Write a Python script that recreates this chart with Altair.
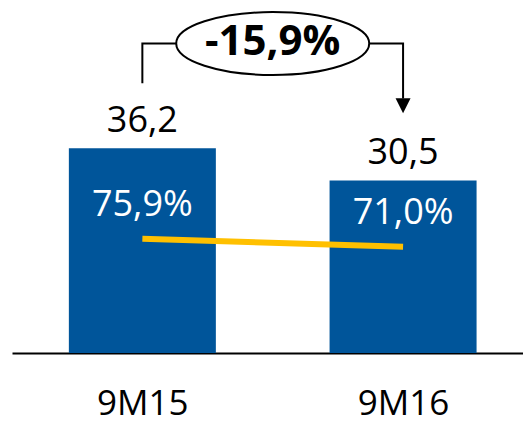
import altair as alt
import pandas as pd

# ---- data ----
categories = ["9M15", "9M16"]
values = [36.2, 30.5]
value_labels = ["36,2", "30,5"]
pcts = [75.9, 71.0]
pct_labels = ["75,9%", "71,0%"]
change_label = "-15,9%"

# ---- annotation anchors (in data units of the bar scale) ----
BRACKET_Y = 54.7
LEFT_DROP = 47.7
RIGHT_DROP = 45.0
ARROW_Y = 43.7
MID_X = 0.5

BLUE = "#00559A"
YELLOW = "#FFC000"
FONT = "Open Sans"

df = pd.DataFrame({
    "pos": list(range(len(categories))),
    "cat": categories,
    "value": values,
    "vlabel": value_labels,
    "pct": pcts,
    "plabel": pct_labels,
})

bracket = pd.DataFrame({
    "pos": [0, 0, 1, 1],
    "y": [LEFT_DROP, BRACKET_Y, BRACKET_Y, RIGHT_DROP],
    "o": [0, 1, 2, 3],
})
arrow = pd.DataFrame({"pos": [1], "y": [ARROW_Y]})
ell = pd.DataFrame({"pos": [MID_X], "y": [BRACKET_Y], "t": [change_label]})

label_expr = "datum.value == 0 ? '%s' : '%s'" % (categories[0], categories[1])

xs = alt.Scale(domain=[-0.5, 1.46], nice=False, zero=False, padding=0)
X_AXIS = alt.Axis(values=[0, 1], labelExpr=label_expr, ticks=False, tickSize=0,
                  grid=False, title=None, domainColor="black", domainWidth=2,
                  labelFont=FONT, labelFontSize=35, labelColor="black",
                  labelBaseline="alphabetic", labelPadding=61)


def xenc():
    return alt.X("pos:Q", scale=xs, axis=X_AXIS)


y1 = alt.Scale(domain=[0, 62.4], nice=False, zero=False, padding=0)
y2 = alt.Scale(domain=[6, 222], nice=False, zero=False, padding=0)

base = alt.Chart(df)

bars = base.mark_bar(color=BLUE, size=147).encode(
    x=xenc(), y=alt.Y("value:Q", scale=y1, axis=None)
)
vlabels = base.mark_text(font=FONT, fontSize=36, color="black", baseline="alphabetic", dy=-16).encode(
    x=xenc(), y=alt.Y("value:Q", scale=y1, axis=None), text="vlabel:N"
)
line = base.mark_line(color=YELLOW, strokeWidth=6, strokeCap="butt").encode(
    x=xenc(), y=alt.Y("pct:Q", scale=y2, axis=None)
)
plabels = base.mark_text(font=FONT, fontSize=36, color="white", baseline="alphabetic", dy=-23).encode(
    x=xenc(), y=alt.Y("pct:Q", scale=y2, axis=None), text="plabel:N"
)

br = alt.Chart(bracket).mark_line(color="black", strokeWidth=2, strokeCap="butt", strokeJoin="miter").encode(
    x=xenc(), y=alt.Y("y:Q", scale=y1, axis=None), order="o:Q"
)
arr = alt.Chart(arrow).mark_point(shape="M-1,-1L1,-1L0,1Z", size=225, filled=True,
                                  color="black", opacity=1).encode(
    x=xenc(), y=alt.Y("y:Q", scale=y1, axis=None)
)
ellipse = alt.Chart(ell).mark_point(
    shape="M-1,0A1,0.326,0,1,1,1,0A1,0.326,0,1,1,-1,0Z", size=193 * 193,
    filled=True, fill="white", stroke="black", strokeWidth=2, opacity=1
).encode(x=xenc(), y=alt.Y("y:Q", scale=y1, axis=None))
etext = alt.Chart(ell).mark_text(font=FONT, fontSize=42, fontWeight="bold", color="black",
                                 baseline="middle", dy=-2).encode(
    x=xenc(), y=alt.Y("y:Q", scale=y1, axis=None), text="t:N"
)

chart = alt.layer(bars, line, vlabels, plabels, br, arr, ellipse, etext).resolve_scale(
    y="independent"
).properties(
    width=511, height=353,
    padding={"left": 12, "top": 0, "right": 0, "bottom": 70},
    autosize=alt.AutoSizeParams(type="none"),
    background="white",
).configure_view(stroke=None)

chart.save("out.html", embed_options={"renderer": "svg", "actions": False})
